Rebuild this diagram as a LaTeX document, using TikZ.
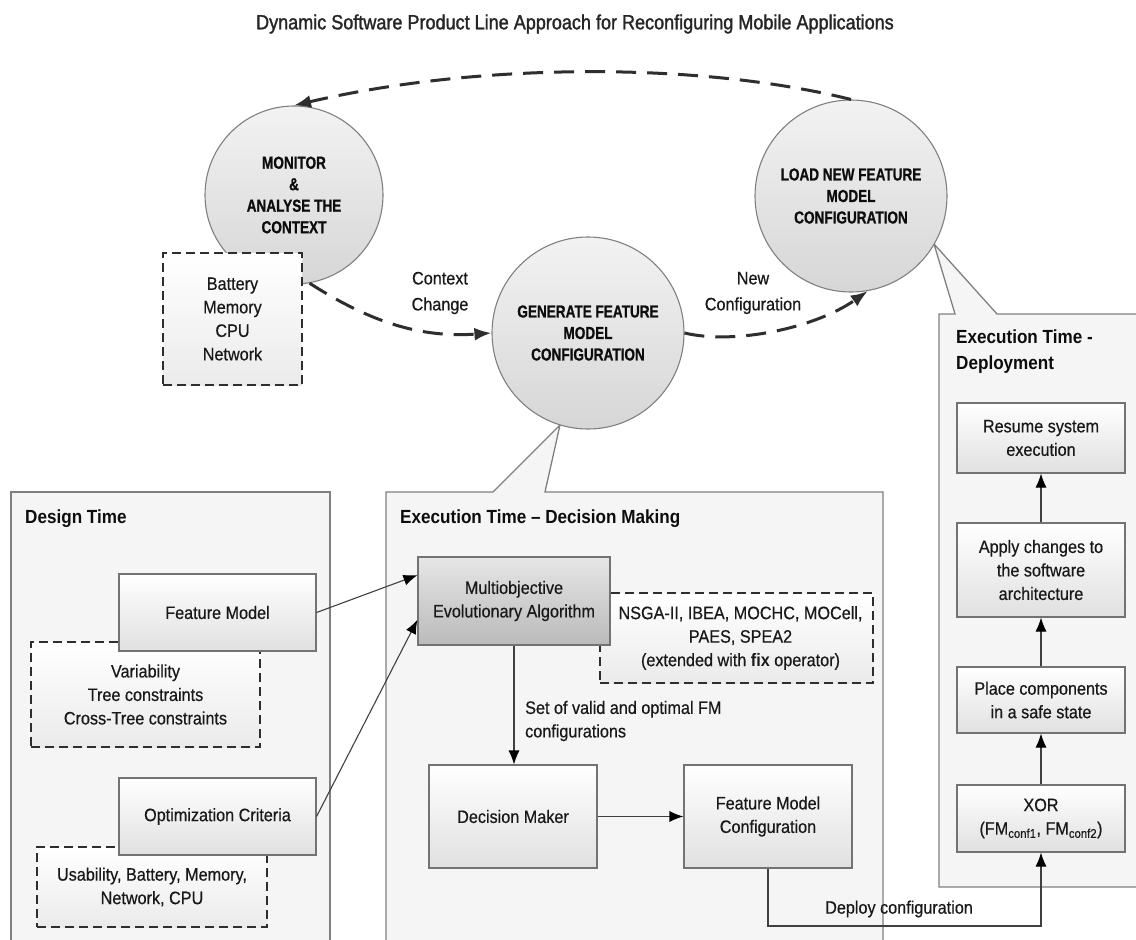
\documentclass[tikz,border=0pt]{standalone}
\usepackage{fontspec}
\setmainfont[FakeStretch=0.9]{Liberation Sans}
\newfontfamily\bodyfont[FakeStretch=0.9, FakeBold=0.5]{Liberation Sans}
\newfontfamily\titlefont[FakeStretch=0.88, FakeBold=1.5]{Liberation Sans}
\newfontfamily\circfont[FakeStretch=0.78, FakeBold=0.8]{Liberation Sans}
\usetikzlibrary{arrows.meta,shapes.geometric}
\begin{document}
\begin{tikzpicture}[x=1pt,y=-1pt,
  txt/.style={font=\bodyfont\fontsize{18}{23.5}\selectfont, text=black!90, align=center},
  ptitle/.style={font=\bfseries\fontsize{19}{26}\selectfont, text=black!95, inner sep=0pt, align=left},
  box/.style={txt, draw=black!55, line width=1.1pt, top color=white, bottom color=black!12, inner sep=0pt},
  moeabox/.style={box, top color=black!10, bottom color=black!27},
  dbox/.style={txt, draw=black!82, line width=2.3pt, dash pattern=on 9pt off 5pt, top color=white, bottom color=black!8, inner sep=0pt},
  panel/.style={draw=black!50, line width=1.3pt, fill=black!4},
  circ/.style={circle, draw=black!50, line width=1.1pt, top color=black!5, bottom color=black!16, inner sep=0pt,
    font=\circfont\bfseries\fontsize{17.4}{21.5}\selectfont, align=center, text=black!95},
  sarr/.style={draw=black!75, line width=1.1pt, -{Latex[length=14pt,width=11pt,black]}},
  darr/.style={draw=black!82, line width=3pt, dash pattern=on 20pt off 11pt, -{Latex[length=17pt,width=13pt]}},
  lbl/.style={txt, inner sep=0pt}
]
\path[use as bounding box] (0,0) rectangle (1136,940);
\clip (0,0) rectangle (1136,940);
\fill[white] (0,0) rectangle (1136,940);

% title
\node[font=\titlefont\fontsize{20.5}{24}\selectfont, text=black!85] (title) at (575,24) {Dynamic Software Product Line Approach for Reconfiguring Mobile Applications};

% callout tips on circles
\coordinate (genTip) at (560,425);
\coordinate (loadTip) at (934,244);

% panels
\draw[panel] (11,492) rectangle (330,960);
\draw[panel] (386,960) -- (386,492) -- (493,492) -- (genTip) -- (545,492) -- (883,492) -- (883,960);
\draw[panel] (1150,887) -- (939,887) -- (939,314) -- (955,314) -- (loadTip) -- (997,314) -- (1150,314);

\node[ptitle, anchor=west] (dtl) at (25,519) {Design Time};
\node[ptitle, anchor=west] (etl) at (400,519) {Execution Time – Decision Making};
\node[ptitle, anchor=west] (dpl) at (956,352) {Execution Time -\\Deployment};

% design time
\node[dbox, minimum width=229, minimum height=105] (var) at (145.5,694.5) {Variability\\Tree constraints\\Cross-Tree constraints};
\node[box, minimum width=197, minimum height=77] (fm) at (217.5,612.5) {Feature Model};
\node[dbox, minimum width=230, minimum height=80] (usab) at (152,887) {Usability, Battery, Memory,\\Network, CPU};
\node[box, minimum width=197, minimum height=77] (opt) at (217.5,816.5) {Optimization Criteria};

% decision making
\node[dbox, minimum width=273, minimum height=90] (nsga) at (736.5,638) {\hspace*{8pt}NSGA-II, IBEA, MOCHC, MOCell,\\\hspace*{8pt}PAES, SPEA2\\\hspace*{8pt}(extended with {\fontspec[FakeStretch=0.9]{Liberation Sans}\bfseries fix} operator)};
\node[moeabox, minimum width=192, minimum height=88] (moea) at (514,601) {Multiobjective\\Evolutionary Algorithm};
\node[box, minimum width=168, minimum height=103] (dm) at (513,816.5) {Decision Maker};
\node[box, minimum width=168, minimum height=103] (fmc) at (768,816.5) {Feature Model\\Configuration};
\node[lbl, anchor=west, align=left] (setl) at (525,721) {Set of valid and optimal FM\\configurations};

% deployment
\node[box, minimum width=168, minimum height=70] (resume) at (1041,438) {Resume system\\execution};
\node[box, minimum width=168, minimum height=94] (apply) at (1041,570) {Apply changes to\\the software\\architecture};
\node[box, minimum width=168, minimum height=66] (place) at (1041,700) {Place components\\in a safe state};
\node[box, minimum width=168, minimum height=67] (xor) at (1041,818.5) {XOR\\(FM\textsubscript{conf1}, FM\textsubscript{conf2})};

% solid connectors
\draw[sarr] (fm.east) -- (moea.165);
\draw[sarr] (opt.east) -- (moea.191);
\draw[sarr] (moea.south) -- (moea.south |- dm.north);
\draw[sarr] (dm.east) -- (fmc.west);
\coordinate (dcr) at (1041,926);
\draw[sarr] (fmc.south) |- (dcr) -- (xor.south);
\node[lbl, anchor=west] (depl) at (825,909) {Deploy configuration};
\draw[sarr] (xor.north) -- (place.south);
\draw[sarr] (place.north) -- (apply.south);
\draw[sarr] (apply.north) -- (resume.south);

% circles
\node[circ, minimum size=178] (mon) at (294,195) {MONITOR\\\&\\ANALYSE THE\\CONTEXT};
\node[circ, minimum size=192] (gen) at (588,333) {GENERATE FEATURE\\MODEL\\CONFIGURATION};
\node[circ, minimum size=192] (load) at (851,196) {LOAD NEW FEATURE\\MODEL\\CONFIGURATION};

\node[dbox, minimum width=139, minimum height=132] (batt) at (232.5,319) {Battery\\Memory\\CPU\\Network};

% labels
\node[lbl, font=\bodyfont\fontsize{18}{26}\selectfont] (ctx) at (440,293) {Context\\Change};
\node[lbl, font=\bodyfont\fontsize{18}{26}\selectfont] (newc) at (753,293) {New\\Configuration};

% dashed loop
\draw[darr] (mon.-80) .. controls (370,322) and (420,338) .. (gen.west);
\draw[darr] (gen.east) .. controls (735,345) and (815,328) .. (load.-80);
\draw[darr] (load.north) .. controls (700,62) and (480,62) .. (mon.north);
\end{tikzpicture}
\end{document}
